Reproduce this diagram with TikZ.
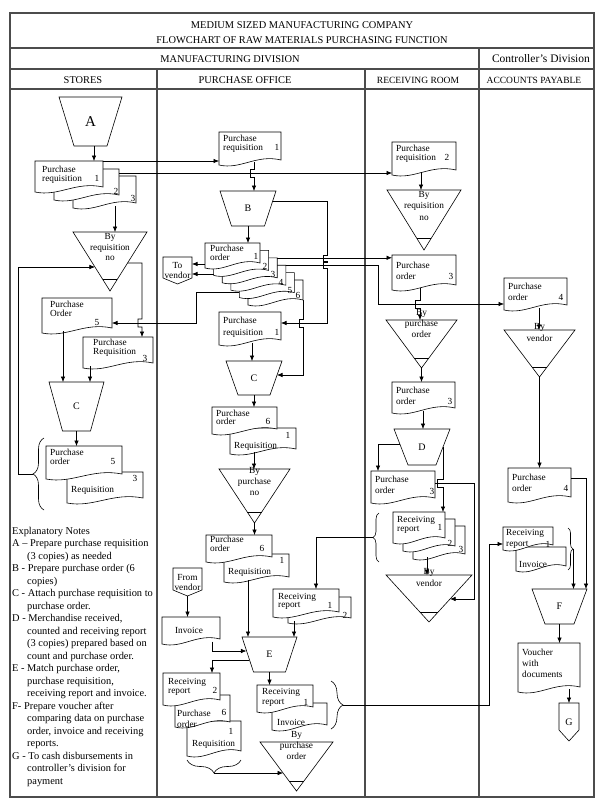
\documentclass[tikz,border=0pt]{standalone}
\usepackage{fontspec}
\setmainfont{Liberation Serif}
\usetikzlibrary{arrows.meta,decorations.pathreplacing,calc}

\tikzset{
  ln/.style={line width=0.6pt, draw=black},
  arr/.style={line width=0.6pt, draw=black, -{Latex[length=5.5pt,width=4.5pt]}},
  shp/.style={line width=0.6pt, draw=black, fill=white},
  frm/.style={line width=1.1pt, draw=black!70},
  abox/.style={inner sep=0pt, outer sep=0pt, draw=none},
  dtxt/.style={font=\fontsize{9.3}{#1}\selectfont, inner sep=0pt, align=left, anchor=north west},
  dtxt/.default=9,
  dnum/.style={font=\fontsize{9.3}{9.3}\selectfont, inner sep=0pt},
  ttxt/.style={font=\fontsize{9.3}{#1}\selectfont, inner sep=0pt, align=center, anchor=north},
  ttxt/.default=11,
  otxt/.style={font=\fontsize{9.3}{10}\selectfont, align=center},
  lbl/.style={font=\fontsize{10}{10}\selectfont},
  hdr/.style={font=\fontsize{10.4}{12}\selectfont, inner sep=0pt},
  hds/.style={font=\fontsize{9.5}{11}\selectfont, inner sep=0pt},
  brc/.style={line width=0.6pt, draw=black, decorate, decoration={brace, amplitude=#1}},
  notes/.style={font=\fontsize{10.4}{12.5}\selectfont, inner sep=0pt, align=left, anchor=north west},
}

\newcommand\docu[5]{%
  \pgfmathsetmacro\dcXa{#2}\pgfmathsetmacro\dcYa{#3}%
  \pgfmathsetmacro\dcXb{#4}\pgfmathsetmacro\dcYb{#5}%
  \pgfmathsetmacro\dcW{\dcXb-\dcXa}\pgfmathsetmacro\dcH{\dcYb-\dcYa}%
  \pgfmathsetmacro\dcX{(\dcXa+\dcXb)/2}\pgfmathsetmacro\dcY{(\dcYa+\dcYb)/2}%
  \draw[shp] (\dcXa,\dcYa) -- (\dcXb,\dcYa) -- (\dcXb,{\dcYb-5})
     .. controls ({\dcXa+0.6*\dcW},{\dcYb-11}) and ({\dcXa+0.35*\dcW},{\dcYb+5}) .. (\dcXa,\dcYb) -- cycle;
  \node[abox, minimum width=\dcW pt, minimum height=\dcH pt] (#1) at (\dcX,\dcY) {};
}
\newcommand\trap[7]{%
  \pgfmathsetmacro\tpW{#3-#2}\pgfmathsetmacro\tpH{#5-#4}%
  \pgfmathsetmacro\tpX{(#2+#3)/2}\pgfmathsetmacro\tpY{(#4+#5)/2}%
  \node[abox, lbl, minimum width=\tpW pt, minimum height=\tpH pt] (#1) at (\tpX,\tpY) {#7};
  \draw[ln] (#1.north west) -- (#1.north east) -- ([xshift=-#6pt]#1.south east) -- ([xshift=#6pt]#1.south west) -- cycle;
}
\newcommand\ftri[5]{%
  \pgfmathsetmacro\trW{#3-#2}\pgfmathsetmacro\trH{#5-#4}%
  \pgfmathsetmacro\trX{(#2+#3)/2}\pgfmathsetmacro\trY{(#4+#5)/2}%
  \node[abox, minimum width=\trW pt, minimum height=\trH pt] (#1) at (\trX,\trY) {};
  \draw[ln] (#1.north west) -- (#1.north east) -- (#1.south) -- cycle;
  \draw[ln] ($(#1.north west)!0.8!(#1.south)$) -- ($(#1.north east)!0.8!(#1.south)$);
}
\newcommand\offpg[7]{%
  \pgfmathsetmacro\opW{#3-#2}\pgfmathsetmacro\opH{#5-#4}%
  \pgfmathsetmacro\opX{(#2+#3)/2}\pgfmathsetmacro\opY{(#4+#5)/2}%
  \node[abox, otxt, minimum width=\opW pt, minimum height=\opH pt] (#1) at (\opX,\opY) {#7};
  \draw[ln] (#1.north west) -- (#1.north east) -- ([yshift=#6pt]#1.south east) -- (#1.south) -- ([yshift=#6pt]#1.south west) -- cycle;
}

\begin{document}
\begin{tikzpicture}[x=1pt,y=-1pt]
\useasboundingbox (0,0) rectangle (611,808);
\fill[white] (0,0) rectangle (611,808);

% ---------- frame ----------
\draw[frm] (10,13) rectangle (594,797);
\draw[frm] (10,48) -- (594,48);
\draw[frm] (10,69) -- (594,69);
\draw[frm] (10,89) -- (594,89);
\draw[frm] (479,48) -- (479,797);
\draw[frm] (157,69) -- (157,797);
\draw[frm] (365,69) -- (365,797);

\node[hdr] (h1) at (302,25) {MEDIUM SIZED MANUFACTURING COMPANY};
\node[hdr] (h2) at (302,40) {FLOWCHART OF RAW MATERIALS PURCHASING FUNCTION};
\node[hdr] (h3) at (230,59.5) {MANUFACTURING DIVISION};
\node[font=\fontsize{11.5}{13}\selectfont, inner sep=0pt] (h4) at (541,59) {Controller’s Division};
\node[hdr] (h5) at (83,80.5) {STORES};
\node[hdr] (h6) at (245,80.5) {PURCHASE OFFICE};
\node[hds] (h7) at (418,80) {RECEIVING ROOM};
\node[hds] (h8) at (534,80) {ACCOUNTS PAYABLE};

% ---------- stores shapes ----------
\trap{A}{59}{122}{97}{146}{15}{{\fontsize{15}{15}\selectfont A}}
\docu{sr3}{73}{176}{136}{208}
\docu{sr2}{54}{169}{119}{200}
\docu{sr1}{35}{161}{103}{192}
\ftri{st}{73}{147}{232}{291}
\docu{sp5}{42}{298}{112}{333}
\docu{sq3}{83}{337}{153}{368}
\trap{sc}{49}{104}{382}{431}{13.5}{C}
\docu{sq3b}{67}{472}{143}{503}
\docu{sp5b}{46}{446}{122}{479}
\draw[brc=11pt] (44,510) -- (44,438);
\coordinate (sbr) at (33,474);

% ---------- purchase office shapes ----------
\docu{pp1}{219}{132}{281}{165}
\trap{B}{220}{276}{191}{226}{11.5}{B}
\docu{pc6}{248}{280}{303}{305}
\docu{pc5}{239.4}{272.6}{294.4}{297.6}
\docu{pc4}{230.8}{265.2}{285.8}{290.2}
\docu{pc3}{222.2}{257.8}{277.2}{282.8}
\docu{pc2}{213.6}{250.4}{268.6}{275.4}
\docu{pc1}{205}{243}{260}{268}
\offpg{tv}{163}{192}{257}{284}{6}{To\\vendor}
\docu{pr1b}{219}{312}{281}{345}
\trap{pcc}{226}{282}{361}{395}{12}{C}
\docu{pq1}{230}{428}{296}{454}
\docu{pp6}{212}{407}{277}{434}
\ftri{ptri}{219}{290}{469}{523}
\docu{pq1b}{224}{554}{289}{582}
\docu{pp6b}{206}{535}{272}{562}
\offpg{fv}{173}{202}{568}{596}{6}{From\\vendor}
\docu{pinv}{162}{617}{220}{644}
\docu{prr2}{288}{597}{351}{623}
\docu{prr1}{273}{589}{339}{617}
\trap{E}{242}{297}{637}{672}{11.5}{E}
\docu{bq1}{187}{721}{241}{756}
\docu{bpo6}{175}{695}{230}{727}
\docu{brr2}{163}{673}{220}{705}
\docu{binv}{272}{703}{327}{730}
\docu{brr1}{257}{685}{313}{712}
\draw[brc=13pt] (241,760) -- (187,760);
\coordinate (bbr) at (214,773);
\draw[brc=12pt] (331,681) -- (331,729);
\coordinate (pbr) at (343,705);
\ftri{btri}{260}{333}{742}{791}

% ---------- receiving room shapes ----------
\docu{rpr2}{392}{142}{456}{175}
\ftri{rt1}{387}{461}{190}{250}
\docu{rpo3}{392}{255}{456}{290}
\ftri{rt2}{386}{457}{320}{368}
\docu{rpo3b}{392}{382}{455}{413}
\trap{D}{394}{450}{429}{465}{14}{D}
\docu{rpo3c}{371}{471}{435}{503}
\docu{rrr3}{413}{526}{465}{559}
\docu{rrr2}{403}{519}{455}{551}
\docu{rrr1}{393}{512}{445}{543}
\draw[brc=6pt] (379,562) -- (379,513);
\coordinate (rbr) at (373,537.5);
\ftri{rvt}{386}{472}{575}{622}

% ---------- accounts payable shapes ----------
\docu{apo4}{504}{278}{567}{310}
\ftri{aptri}{504}{575}{330}{377}
\docu{apo4b}{508}{468}{571}{502}
\docu{ainv}{516}{547}{566}{571}
\docu{arr1}{503}{527}{553}{550}
\draw[brc=5pt] (568,528) -- (568,570);
\coordinate (abr) at (573,549);
\trap{F}{532}{587}{589}{624}{13}{F}
\docu{av}{518}{643}{580}{692}
\offpg{G}{559}{579}{703}{741}{11}{\fontsize{10}{10}\selectfont G}

% ---------- connectors: stores ----------
\draw[arr] ([xshift=3.5pt]A.south) -- ([xshift=25pt]sr1.north);
\draw[arr] (sr1.north east) -- (sr1.north east -| pp1.west);
\coordinate (c2) at ([yshift=-4pt]sr2.north east);
\draw[arr] (c2) -- (c2 -| rpr2.west);
\coordinate (c3) at ([xshift=10.5pt,yshift=2pt]sr3.south);
\draw[arr] (c3) -- (c3 |- st.north);
\coordinate (stL) at ($(st.north west)!0.593!(st.south)$);
\draw[arr] (sbr) -- (18,474) |- (stL);
\coordinate (stR) at ($(st.north east)!0.525!(st.south)$);
\draw[arr] (stR) -- (142,263) -- (142,319) -- (138,319) -- (138,327) -- (142,327) -- ([xshift=-11pt]sq3.north east);
\coordinate (c5) at ([yshift=-19.4pt]pc5.north west);
\draw[arr] (c5) -- (196,292) |- ([yshift=-7.5pt]sp5.east);
\coordinate (c8) at ([xshift=-14pt,yshift=2pt]sp5.south);
\draw[arr] (c8) -- (c8 |- sc.north);
\coordinate (c9) at ([xshift=-28pt,yshift=2pt]sq3.south);
\draw[arr] (c9) -- (c9 |- sc.north);
\draw[arr] (sc.south) -- (sc.south |- sp5b.north);

% ---------- connectors: purchase office ----------
\coordinate (c10) at ([xshift=4pt,yshift=3pt]pp1.south);
\draw[arr] (c10) -- (254,169) -- (250,169) -- (250,177) -- (254,177) -- (c10 |- B.north);
\draw[arr] (B.south) -- (B.south |- pc1.north);
\coordinate (bR) at ([xshift=-3.3pt,yshift=-10pt]B.north east);
\draw[arr] (bR) -- (327,201) -- (327,254.8) -- (323,254.8) -- (323,260.8) -- (327,260.8) -- (327,262.2) -- (323,262.2) -- (323,268.2) -- (327,268.2) |- ([yshift=5.5pt]pr1b.east);
\draw[arr] (pc3.north east) -- (pc3.north east -| rpo3.west);
\draw[arr] (pc4.north east) -- (378,265.2) |- ([yshift=-10pt]apo4.west);
\coordinate (c11) at ([yshift=-21pt]pc1.north west);
\draw[arr] (c11) -- (c11 -| tv.east);
\coordinate (c12) at ([yshift=-23.6pt]pc2.north west);
\draw[arr] (c12) -- (c12 -| tv.east);
\coordinate (c6) at ([yshift=5pt]pc6.south east);
\coordinate (pccR) at ([xshift=-5pt,yshift=-14pt]pcc.north east);
\draw[arr] (c6) -- (303,319) -- (299,319) -- (299,327) -- (303,327) |- (pccR);
\coordinate (c13) at ([xshift=2pt,yshift=2pt]pr1b.south);
\draw[arr] (c13) -- (c13 |- pcc.north);
\draw[arr] (pcc.south) -- (pcc.south |- pp6.north);
\coordinate (c14) at ([xshift=-9pt,yshift=2pt]pq1.south);
\draw[arr] (c14) -- (c14 |- ptri.north);
\draw[arr] (ptri.south) -- (ptri.south |- pp6b.north);
\coordinate (c15) at ([xshift=-8.5pt,yshift=2pt]pq1b.south);
\draw[arr] (c15) -- (c15 |- E.north);
\draw[arr] (fv.south) -- (fv.south |- pinv.north);
\coordinate (c16) at ([xshift=21pt,yshift=2.5pt]pinv.south);
\coordinate (EL) at ([xshift=4.4pt,yshift=-14pt]E.north west);
\draw[arr] (c16) |- (EL);
\draw[arr] (rbr) -| ([xshift=10pt]prr1.north);
\coordinate (c17) at ([xshift=-25.5pt,yshift=2pt]prr2.south);
\draw[arr] (c17) -- (c17 |- E.north);
\coordinate (EL2) at ([xshift=7.2pt,yshift=-23pt]E.north west);
\draw[arr] (EL2) -| ([xshift=20.5pt]brr2.north);
\draw[arr] (E.south) -- (E.south |- brr1.north);
\coordinate (btriL) at ($(btri.north west)!0.633!(btri.south)$);
\draw[arr] (bbr) -- (bbr -| btriL);
\draw[arr] (pbr) -- (489,705) |- ([yshift=-5.5pt]arr1.west);

% ---------- connectors: receiving room ----------
\coordinate (c18) at ([xshift=-3pt,yshift=3pt]rpr2.south);
\draw[arr] (c18) -- (c18 |- rt1.north);
\coordinate (c19) at ([xshift=-4pt,yshift=2pt]rpo3.south);
\draw[arr] (c19) -- (420,300) -- (415,300) -- (415,308) -- (420,308) -- (c19 |- rt2.north);
\draw[arr] (rt2.south) -- (rt2.south |- rpo3b.north);
\coordinate (c20) at ([xshift=-0.5pt,yshift=2pt]rpo3b.south);
\draw[arr] (c20) -- (c20 |- D.north);
\coordinate (DL) at ([xshift=5.8pt,yshift=-15pt]D.north west);
\draw[arr] (DL) -| ([xshift=-25pt]rpo3c.north);
\coordinate (DR) at ([xshift=-7pt,yshift=-18pt]D.north east);
\draw[arr] (DR) -- (443,479) -- (437,479) -- (437,487) -- (443,487) -- (DR |- rrr1.north);
\coordinate (c21) at ([yshift=-12pt]rpo3c.north east);
\coordinate (rvtR) at ($(rvt.north east)!0.51!(rvt.south)$);
\draw[arr] (c21) -- (474,483) |- (rvtR);
\coordinate (c22) at ([xshift=-12pt,yshift=2pt]rrr3.south);
\draw[arr] (c22) -- (c22 |- rvt.north);

% ---------- connectors: accounts payable ----------
\coordinate (c23) at ([xshift=3.5pt,yshift=2pt]apo4.south);
\draw[arr] (c23) -- (c23 |- aptri.north);
\draw[arr] (aptri.south) -- (aptri.south |- apo4b.north);
\coordinate (c24) at ([yshift=-10pt]apo4b.north east);
\draw[arr] (c24) -| ([xshift=-1pt]F.north east);
\draw[arr] (abr) -| ([xshift=-13.5pt]F.north east);
\draw[arr] (F.south) -- (F.south |- av.north);
\coordinate (c25) at ([xshift=20pt,yshift=3pt]av.south);
\draw[arr] (c25) -- (c25 |- G.north);

% ---------- texts: stores ----------
\node[dtxt] (sr1t) at (42,165.5) {Purchase\\requisition};
\node[dnum] (sr1n) at (97,178) {1};
\node[dnum] (sr2n) at (116,191) {2};
\node[dnum] (sr3n) at (133,198) {3};
\node[ttxt=10.5] (stt) at (110,233.5) {By\\requisition\\no};
\node[dtxt=8.5] (sp5t) at (50,301) {Purchase\\Order};
\node[dnum] (sp5n) at (97,322) {5};
\node[dtxt=8.5] (sq3t) at (93,339) {Purchase\\Requisition};
\node[dnum] (sq3n) at (145,358) {3};
\node[dtxt=8.5] (sp5bt) at (50,449) {Purchase\\order};
\node[dnum] (sp5bn) at (113,461) {5};
\node[dtxt] (sq3bt) at (71,486.5) {Requisition};
\node[dnum] (sq3bn) at (135,478) {3};

% ---------- texts: purchase office ----------
\node[dtxt=8.5] (pp1t) at (223,135) {Purchase\\requisition};
\node[dnum] (pp1n) at (277,147) {1};
\node[dtxt=8.5] (pc1t) at (210,245) {Purchase\\order};
\node[dnum] (pc1n) at (256,256) {1};
\node[dnum] (pc2n) at (265,266) {2};
\node[dnum] (pc3n) at (273,274) {3};
\node[dnum] (pc4n) at (281,282) {4};
\node[dnum] (pc5n) at (290,290) {5};
\node[dnum] (pc6n) at (298,295) {6};
\node[dtxt=12] (pr1bt) at (223,316.5) {Purchase\\requisition};
\node[dnum] (pr1bn) at (277,332) {1};
\node[dtxt=8.5] (pp6t) at (216,409.5) {Purchase\\order};
\node[dnum] (pp6n) at (268,421) {6};
\node[dtxt] (pq1t) at (234,442.5) {Requisition};
\node[dnum] (pq1n) at (288,435) {1};
\node[ttxt=11] (ptrit) at (254.5,467) {By\\purchase\\no};
\node[dtxt=8.5] (pp6bt) at (210,536) {Purchase\\order};
\node[dnum] (pp6bn) at (262,548) {6};
\node[dtxt] (pq1bt) at (228,568) {Requisition};
\node[dnum] (pq1bn) at (282,560) {1};
\node[dnum] (pinvt) at (189,630) {Invoice};
\node[dtxt=8.5] (prr1t) at (278,593) {Receiving\\report};
\node[dnum] (prr1n) at (330,605) {1};
\node[dnum] (prr2n) at (345,615) {2};
\node[dtxt] (brr2t) at (168,678) {Receiving\\report};
\node[dnum] (brr2n) at (215,690.5) {2};
\node[dtxt=11] (bpo6t) at (177,709.5) {Purchase\\order};
\node[dnum] (bpo6n) at (224,712.5) {6};
\node[dtxt] (bq1t) at (192,740.5) {Requisition};
\node[dnum] (bq1n) at (231,731.5) {1};
\node[dtxt=10.5] (brr1t) at (262,688) {Receiving\\report};
\node[dnum] (brr1n) at (306,702) {1};
\node[dtxt] (binvt) at (277,719) {Invoice};
\node[ttxt=11] (btrit) at (296.5,731.5) {By\\purchase\\order};

% ---------- texts: receiving room ----------
\node[dtxt] (rpr2t) at (396,144.5) {Purchase\\requisition};
\node[dnum] (rpr2n) at (447,157) {2};
\node[ttxt=11.5] (rt1t) at (424,191) {By\\requisition\\no};
\node[dtxt=11] (rpo3t) at (396,261.5) {Purchase\\order};
\node[dnum] (rpo3n) at (451,276) {3};
\node[ttxt=11] (rt2t) at (421.5,309) {By\\purchase\\order};
\node[dtxt=11.5] (rpo3bt) at (396,386.5) {Purchase\\order};
\node[dnum] (rpo3bn) at (450,401) {3};
\node[dtxt=11.5] (rpo3ct) at (375,475.5) {Purchase\\order};
\node[dnum] (rpo3cn) at (432,491) {3};
\node[dtxt=8.5] (rrr1t) at (397,516.5) {Receiving\\report};
\node[dnum] (rrr1n) at (440,527) {1};
\node[dnum] (rrr2n) at (450,543) {2};
\node[dnum] (rrr3n) at (461,549) {3};
\node[ttxt=12] (rvtt) at (429,568.5) {By\\vendor};

% ---------- texts: accounts payable ----------
\node[dtxt=11] (apo4t) at (508,282.5) {Purchase\\order};
\node[dnum] (apo4n) at (561,297) {4};
\node[ttxt=12] (aptrit) at (539.5,323.5) {By\\vendor};
\node[dtxt=11] (apo4bt) at (512,473.5) {Purchase\\order};
\node[dnum] (apo4bn) at (566,488) {4};
\node[dtxt=11] (arr1t) at (506,529.5) {Receiving\\report};
\node[dnum] (arr1n) at (548,544) {1};
\node[dtxt] (ainvt) at (519,561.5) {Invoice};
\node[dtxt=11] (avt) at (522,648.5) {Voucher\\with\\documents};

% ---------- explanatory notes ----------
\node[notes] (notes) at (12,527) {Explanatory Notes\\
A – Prepare purchase requisition\\
\hspace*{15pt}(3 copies) as needed\\
B - Prepare purchase order (6\\
\hspace*{15pt}copies)\\
C - Attach purchase requisition to\\
\hspace*{15pt}purchase order.\\
D - Merchandise received,\\
\hspace*{15pt}counted and receiving report\\
\hspace*{15pt}(3 copies) prepared based on\\
\hspace*{15pt}count and purchase order.\\
E - Match purchase order,\\
\hspace*{15pt}purchase requisition,\\
\hspace*{15pt}receiving report and invoice.\\
F- Prepare voucher after\\
\hspace*{15pt}comparing data on purchase\\
\hspace*{15pt}order, invoice and receiving\\
\hspace*{15pt}reports.\\
G - To cash disbursements in\\
\hspace*{15pt}controller’s division for\\
\hspace*{15pt}payment};
\end{tikzpicture}
\end{document}
